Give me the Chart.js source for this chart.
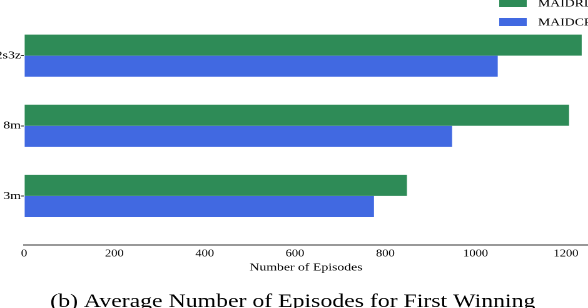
<!DOCTYPE html>
<html>
<head>
<meta charset="utf-8">
<script src="https://cdn.jsdelivr.net/npm/chart.js@4/dist/chart.umd.min.js"></script>
<style>
  html, body { margin: 0; padding: 0; background: #fff; overflow: hidden; width: 588px; height: 308px; }
  #wrap { width: 470px; height: 308px; transform: scaleX(1.2511); transform-origin: 0 0; }
</style>
</head>
<body>
<div id="wrap"><canvas id="c" width="470" height="308"></canvas></div>
<script>
// Data (y index 0 = bottom)
const categories = ['3m', '8m', '2s3z'];
const seriesNames = ['MAIDRL', 'MAIDCR'];
const maidrl = [848, 1207, 1235];
const maidcr = [775, 948, 1049];
const xTickValues = [0, 200, 400, 600, 800, 1000, 1200];
const xAxisTitle = 'Number of Episodes';
const caption = '(b) Average Number of Episodes for First Winning';

const GREEN = '#2E8B57';
const BLUE = '#4169E1';
const SERIF = '"Liberation Serif", "DejaVu Serif", serif';

const overlayPlugin = {
  id: 'overlay',
  afterDraw(chart) {
    const ctx = chart.ctx;
    ctx.save();
    // legend (upper right, cut by the edge)
    const sets = chart.data.datasets;
    const ys = [3, 22];
    sets.forEach((ds, i) => {
      ctx.fillStyle = ds.backgroundColor;
      ctx.fillRect(399, ys[i] - 4, 22, 8);
      ctx.fillStyle = '#000';
      ctx.font = '11px ' + SERIF;
      ctx.textAlign = 'left';
      ctx.textBaseline = 'middle';
      ctx.fillText(ds.label, 430, ys[i] + 0.5);
    });
    // caption
    ctx.fillStyle = '#000';
    ctx.font = '19px ' + SERIF;
    ctx.textAlign = 'center';
    ctx.textBaseline = 'alphabetic';
    ctx.fillText(caption, 234, 307);
    ctx.restore();
  }
};

new Chart(document.getElementById('c'), {
  type: 'bar',
  data: {
    datasets: [
      { label: seriesNames[0], data: categories.map((c, i) => ({ x: maidrl[i], y: i })), backgroundColor: GREEN, borderWidth: 0 },
      { label: seriesNames[1], data: categories.map((c, i) => ({ x: maidcr[i], y: i })), backgroundColor: BLUE, borderWidth: 0 }
    ]
  },
  options: {
    indexAxis: 'y',
    responsive: false,
    animation: false,
    devicePixelRatio: 2,
    layout: { padding: { top: 2, right: 0, bottom: 0, left: 0 } },
    datasets: { bar: { categoryPercentage: 0.6, barPercentage: 1.0 } },
    plugins: { legend: { display: false }, tooltip: { enabled: false }, title: { display: false } },
    scales: {
      y: {
        type: 'linear',
        min: -0.7,
        max: 2.7,
        offset: false,
        afterBuildTicks: (s) => { s.ticks = categories.map((c, i) => ({ value: i })); },
        afterFit: (s) => { s.width = 19.2; },
        ticks: {
          callback: (v) => categories[v],
          color: '#000',
          padding: 0,
          font: { family: SERIF, size: 11 }
        },
        grid: { offset: false, drawOnChartArea: false, drawTicks: true, tickLength: 2.5, color: '#333' },
        border: { display: false }
      },
      x: {
        type: 'linear',
        min: 0,
        max: 1249,
        offset: false,
        afterBuildTicks: (s) => { s.ticks = xTickValues.map(v => ({ value: v })); },
        afterFit: (s) => { s.height = 63; },
        ticks: {
          callback: (v) => String(v),
          color: '#000',
          padding: 3,
          maxRotation: 0,
          autoSkip: false,
          font: { family: SERIF, size: 10 }
        },
        grid: { display: true, drawOnChartArea: false, drawTicks: false },
        border: { display: true, color: '#333', width: 1 },
        title: {
          display: true,
          text: xAxisTitle,
          color: '#000',
          font: { family: SERIF, size: 11 },
          padding: { top: 0, bottom: 34 }
        }
      }
    }
  },
  plugins: [overlayPlugin]
});
</script>
</body>
</html>
